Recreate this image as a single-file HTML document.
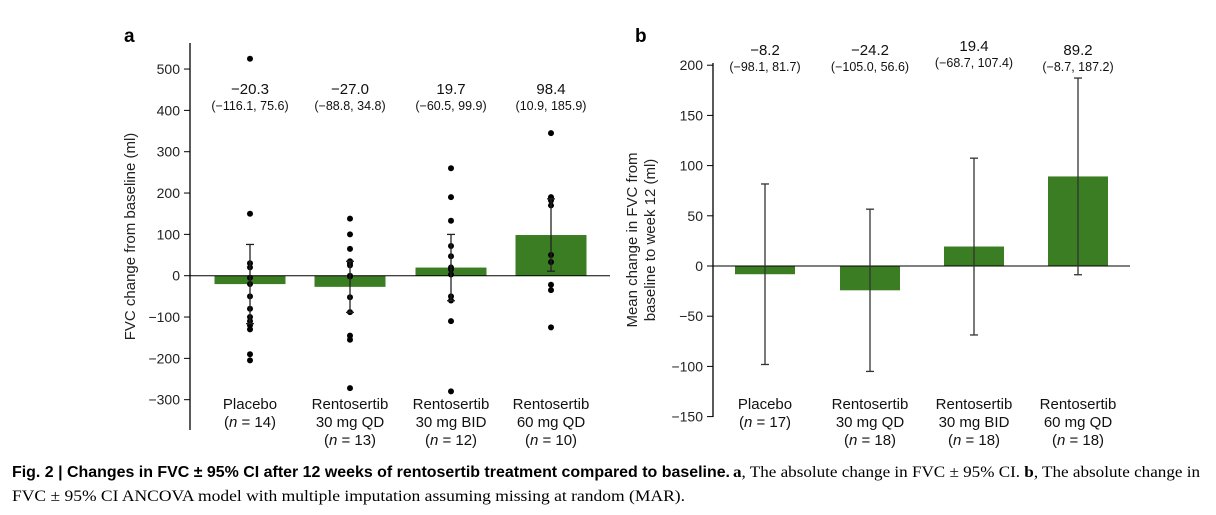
<!DOCTYPE html>
<html><head><meta charset="utf-8"><style>
body{margin:0;background:#fff}
svg{display:block;font-family:"Liberation Sans",sans-serif}
</style></head><body>
<svg id="fig" width="1216" height="515" viewBox="0 0 1216 515" xmlns="http://www.w3.org/2000/svg">
<g id="pa"></g>
<g id="pb"></g>
<text x="12" y="477" font-size="16" font-weight="bold" textLength="718" lengthAdjust="spacingAndGlyphs">Fig. 2 | Changes in FVC  ±  95% CI after 12 weeks of rentosertib treatment compared to baseline.</text>
<text x="733" y="477" font-size="16" textLength="467" lengthAdjust="spacingAndGlyphs" font-family="Liberation Serif, serif"><tspan font-weight="bold">a</tspan>, The absolute change in FVC ± 95% CI. <tspan font-weight="bold">b</tspan>, The absolute change in</text>
<text x="12" y="501" font-size="16" textLength="673" lengthAdjust="spacingAndGlyphs" font-family="Liberation Serif, serif">FVC ± 95% CI ANCOVA model with multiple imputation assuming missing at random (MAR).</text>
</svg>
<script>
const NS='http://www.w3.org/2000/svg';
// Panel a data
const catsA=['Placebo','Rentosertib|30 mg QD','Rentosertib|30 mg BID','Rentosertib|60 mg QD'];
const nA=[14,13,12,10];
const meanA=[-20.3,-27.0,19.7,98.4];
const loA=[-116.1,-88.8,-60.5,10.9];
const hiA=[75.6,34.8,99.9,185.9];
const dotsA=[
 [525,150,30,20,-5,-20,-50,-80,-100,-110,-120,-130,-190,-205],
 [138,100,65,35,30,25,0,-2,-52,-88,-145,-155,-272],
 [260,190,133,72,47,20,15,3,-50,-60,-110,-280],
 [345,190,188,182,170,50,33,-22,-35,-125]
];
const ticksA=[-300,-200,-100,0,100,200,300,400,500];
// Panel b data
const nB=[17,18,18,18];
const meanB=[-8.2,-24.2,19.4,89.2];
const loB=[-98.1,-105.0,-68.7,-8.7];
const hiB=[81.7,56.6,107.4,187.2];
const ticksB=[-150,-100,-50,0,50,100,150,200];

function mk(p,tag,at,txt){const e=document.createElementNS(NS,tag);for(const k in at)e.setAttribute(k,at[k]);if(txt!==undefined)e.textContent=txt;p.appendChild(e);return e;}
const fmt=v=>(v<0?'\u2212'+Math.abs(v).toFixed(1):v.toFixed(1));

function panel(g,o){
  const y=v=>o.y0-(v-0)*o.k;
  const x=i=>o.cx[i];
  let e=mk(g,'text',{x:o.lx,y:o.ly,'font-size':19,'font-weight':'bold'},o.letter);
  
  
  e=mk(g,'line',{x1:o.ax,x2:o.ax,y1:o.top,y2:o.bot,stroke:'#000','stroke-width':1.3});
  
  
  o.ticks.forEach(t=>{
    let l=mk(g,'line',{x1:o.ax-6,x2:o.ax,y1:y(t),y2:y(t),stroke:'#000','stroke-width':1});
    
    
    let tx=mk(g,'text',{x:o.ax-10,y:y(t)+5,'font-size':14,'text-anchor':'end',fill:'#222'},t<0?'\u2212'+Math.abs(t):String(t));
    
    
  });
  const ty=mk(g,'text',{transform:`translate(${o.tx},${(o.top+o.bot)/2}) rotate(-90)`,'font-size':15,'text-anchor':'middle',fill:'#222'});
  
  
  o.title.forEach((s,i)=>mk(ty,'tspan',{x:0,dy:i?18:(o.title.length>1?-9:0)},s));
  o.mean.forEach((m,i)=>{
    const yy=Math.min(y(m),y(0)),hh=Math.abs(y(m)-y(0));
    let b=mk(g,'rect',{x:x(i)-o.bw/2,y:yy,width:o.bw,height:hh,fill:'#3b7d23'});
    
    
  });
  let z=mk(g,'line',{x1:o.ax,x2:o.zx,y1:y(0),y2:y(0),stroke:'#000','stroke-width':1});
  
  
  if(o.dots) o.dots.forEach((arr,i)=>arr.forEach(v=>{
    let c=mk(g,'circle',{cx:x(i),cy:y(v),r:3,fill:'#000'});
    
    
  }));
  o.mean.forEach((m,i)=>{
    const eg=mk(g,'g',{stroke:o.ec,'stroke-width':1.3});
    
    
    mk(eg,'line',{x1:x(i),x2:x(i),y1:y(o.lo[i]),y2:y(o.hi[i])});
    mk(eg,'line',{x1:x(i)-4,x2:x(i)+4,y1:y(o.lo[i]),y2:y(o.lo[i])});
    mk(eg,'line',{x1:x(i)-4,x2:x(i)+4,y1:y(o.hi[i]),y2:y(o.hi[i])});
    let t=mk(g,'text',{x:x(i),y:o.my[i],'font-size':15,'text-anchor':'middle',fill:'#111'},fmt(m));
    
    
    t=mk(g,'text',{x:x(i),y:o.my[i]+16,'font-size':12.5,'text-anchor':'middle',fill:'#111'},'('+fmt(o.lo[i])+', '+fmt(o.hi[i])+')');
    
    
    const lines=catsA[i].split('|');
    const cg=mk(g,'text',{x:x(i),y:409,'font-size':15,'text-anchor':'middle',fill:'#111'});
    
    
    lines.forEach((s,j)=>mk(cg,'tspan',{x:x(i),dy:j?18:0},s));
    mk(cg,'tspan',{x:x(i),dy:18},'(');
    mk(cg,'tspan',{'font-style':'italic'},'n');
    mk(cg,'tspan',{},' = '+o.n[i]+')');
  });
}
panel(document.getElementById('pa'),{letter:'a',lx:124,ly:42,ax:190,top:43,bot:430,zx:610,y0:275.7,k:0.4133,
  cx:[250,350,451,551],bw:71,ticks:ticksA,title:['FVC change from baseline (ml)'],tx:135,
  mean:meanA,lo:loA,hi:hiA,n:nA,dots:dotsA,ec:'#222',my:[94,94,94,94]});
panel(document.getElementById('pb'),{letter:'b',lx:635,ly:42,ax:713,top:63,bot:417,zx:1130,y0:266,k:1.004,
  cx:[765,870,974,1078],bw:60,ticks:ticksB,title:['Mean change in FVC from','baseline to week 12 (ml)'],tx:646,
  mean:meanB,lo:loB,hi:hiB,n:nB,ec:'#333',my:[55,55,51,55]});
</script>
</body></html>
